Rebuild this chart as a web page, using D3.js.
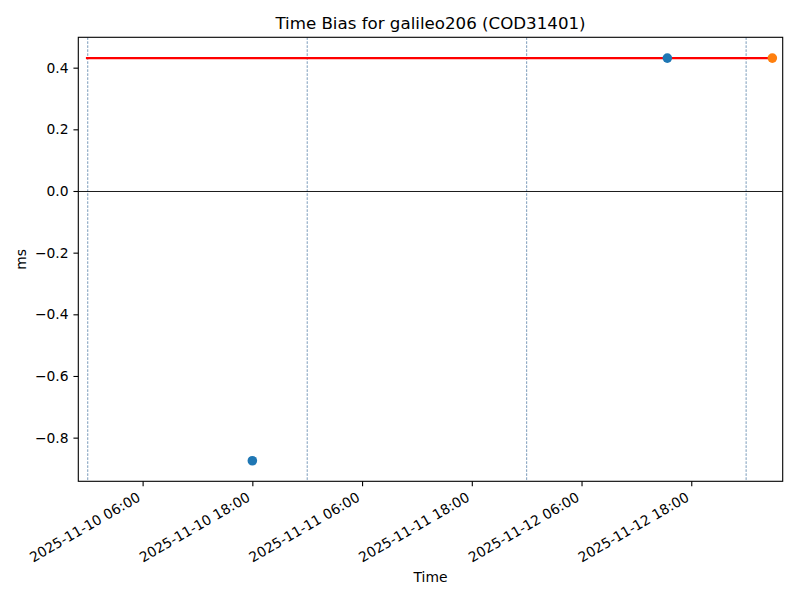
<!DOCTYPE html>
<html><head><meta charset="utf-8">
<script src="https://cdn.jsdelivr.net/npm/d3@7"></script>
<style>body{margin:0;background:#fff;} text{font-family:"DejaVu Sans",sans-serif;}</style>
</head><body><svg id="c" width="800" height="600"></svg>
<script>
const parse = d3.timeParse("%Y-%m-%d %H:%M");
const pointTimes = ["2025-11-10 18:00", "2025-11-12 15:23"];
const pointValues = [-0.875, 0.431];
const latestTime = ["2025-11-13 02:52"];
const latestValue = [0.431];
const meanLineTimes = ["2025-11-09 23:48", "2025-11-13 02:52"];
const meanLineValue = 0.431;
const dayLines = ["2025-11-10 00:00", "2025-11-11 00:00", "2025-11-12 00:00", "2025-11-13 00:00"];
const xTicks = ["2025-11-10 06:00", "2025-11-10 18:00", "2025-11-11 06:00", "2025-11-11 18:00", "2025-11-12 06:00", "2025-11-12 18:00"];
const yTicks = [-0.8, -0.6, -0.4, -0.2, 0.0, 0.2, 0.4];
const xDomain = ["2025-11-09 22:58", "2025-11-13 04:00"];
const yDomain = [-0.9416, 0.4985];

const L = 78.3, R = 782.7, T = 37.3, B = 481.3;
const FS = 13.89, TS = 16.67, TL = 4.86, PAD = 4.86;
const svg = d3.select("#c");
const x = d3.scaleTime().domain(xDomain.map(parse)).range([L, R]);
const y = d3.scaleLinear().domain(yDomain).range([B, T]);

svg.append("defs").append("clipPath").attr("id", "clp")
  .append("rect").attr("x", L).attr("y", T).attr("width", R - L).attr("height", B - T);
const g = svg.append("g").attr("clip-path", "url(#clp)");

// day lines
g.selectAll("line.day").data(dayLines.map(parse)).enter().append("line")
  .attr("x1", d => x(d)).attr("x2", d => x(d)).attr("y1", T).attr("y2", B)
  .attr("stroke", "#3f6f9c").attr("stroke-width", 0.7).attr("stroke-dasharray", "2.6,1.4");

// zero line
g.append("line").attr("x1", L).attr("x2", R).attr("y1", y(0) + 0.5).attr("y2", y(0) + 0.5)
  .attr("stroke", "#000").attr("stroke-width", 0.9);

// mean line
g.append("line").attr("x1", x(parse(meanLineTimes[0]))).attr("x2", x(parse(meanLineTimes[1])))
  .attr("y1", y(meanLineValue)).attr("y2", y(meanLineValue))
  .attr("stroke", "#ff0000").attr("stroke-width", 2.08);

// points
g.selectAll("circle.p").data(pointTimes.map((t, i) => [parse(t), pointValues[i]])).enter().append("circle")
  .attr("cx", d => x(d[0])).attr("cy", d => y(d[1])).attr("r", 4.8).attr("fill", "#1f77b4");
g.selectAll("circle.l").data(latestTime.map((t, i) => [parse(t), latestValue[i]])).enter().append("circle")
  .attr("cx", d => x(d[0])).attr("cy", d => y(d[1])).attr("r", 4.8).attr("fill", "#ff7f0e");

// frame
svg.append("rect").attr("x", L).attr("y", T).attr("width", R - L).attr("height", B - T)
  .attr("fill", "none").attr("stroke", "#000").attr("stroke-width", 1.1);

// x axis
const fmt = d3.timeFormat("%Y-%m-%d %H:%M");
const xa = svg.append("g").attr("transform", `translate(0,${B})`)
  .call(d3.axisBottom(x).tickValues(xTicks.map(parse)).tickSize(TL).tickFormat(fmt));
xa.select(".domain").remove();
xa.selectAll("line").attr("stroke", "#000").attr("stroke-width", 1.1);
const asc = 0.76 * FS, desc = 0.24 * FS;
const px = -desc * 0.5, py = TL + PAD + asc * 0.866;
xa.selectAll("text").attr("font-size", FS + "px").attr("fill", "#000")
  .attr("text-anchor", "end").attr("dy", null).attr("y", 0).attr("x", 0)
  .attr("transform", `translate(${px},${py}) rotate(-30)`);

// y axis
const ya = svg.append("g").attr("transform", `translate(${L},0)`)
  .call(d3.axisLeft(y).tickValues(yTicks).tickSize(TL).tickFormat(d => d === 0 ? "0.0" : d3.format(".1f")(d).replace("-", "\u2212")));
ya.select(".domain").remove();
ya.selectAll("line").attr("stroke", "#000").attr("stroke-width", 1.1);
ya.selectAll("text").attr("font-size", FS + "px").attr("fill", "#000").attr("x", -(TL + PAD));

// labels
svg.append("text").attr("x", (L + R) / 2).attr("y", 29).attr("text-anchor", "middle")
  .attr("font-size", TS + "px").text("Time Bias for galileo206 (COD31401)");
svg.append("text").attr("x", (L + R) / 2).attr("y", 582).attr("text-anchor", "middle")
  .attr("font-size", FS + "px").text("Time");
svg.append("text").attr("transform", `translate(26,${(T + B) / 2}) rotate(-90)`).attr("text-anchor", "middle")
  .attr("font-size", FS + "px").text("ms");
</script></body></html>
